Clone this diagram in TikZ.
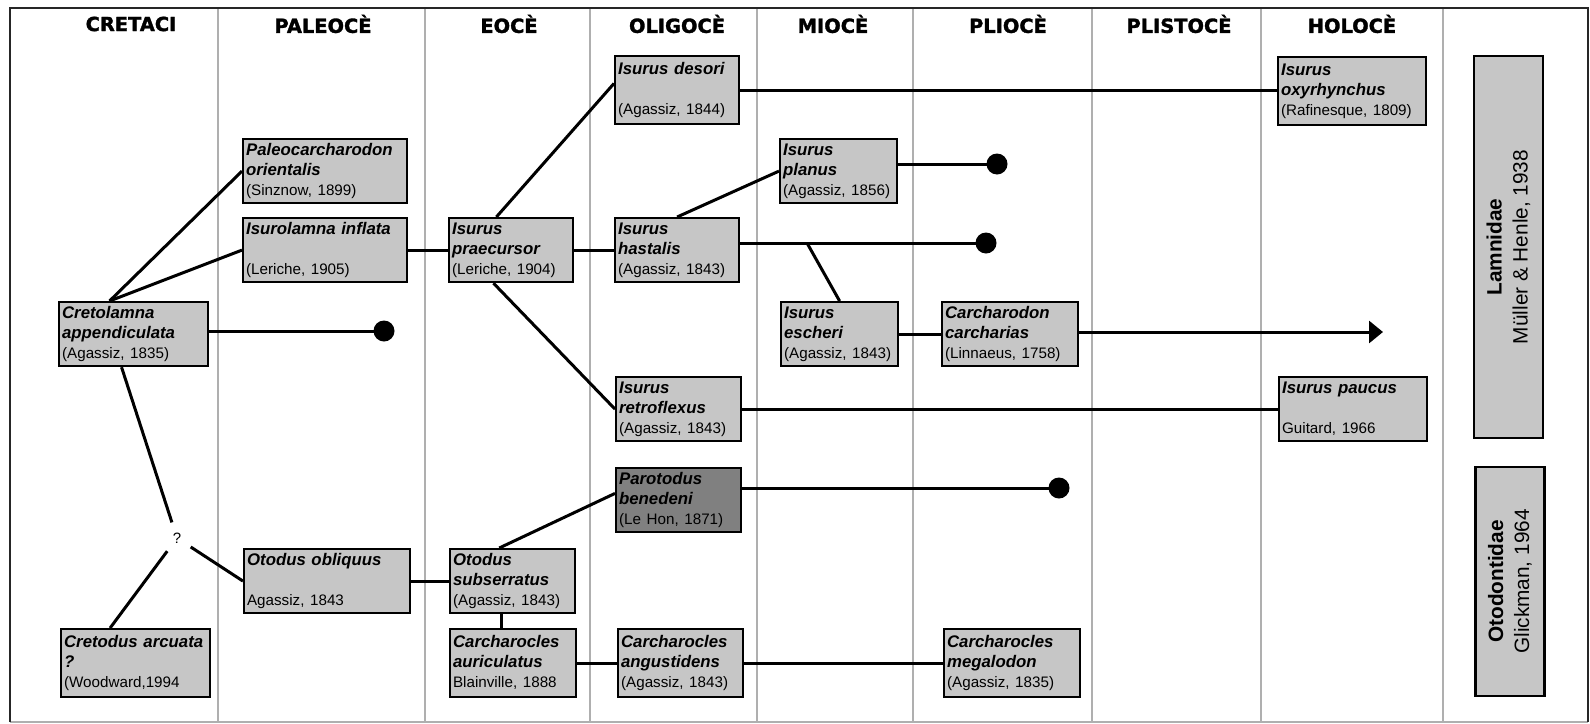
\documentclass[tikz,border=0pt]{standalone}
\usepackage{fontspec}
\setmainfont{Liberation Sans}
\newfontfamily\headfont{DejaVu Sans}[BoldFeatures={FakeBold=1.6}]
\usetikzlibrary{arrows.meta, calc}

\definecolor{boxgray}{RGB}{198,198,198}
\definecolor{darkbox}{RGB}{128,128,128}
\definecolor{sepgray}{RGB}{175,175,175}

% two name lines (bold italic) and the author line
\newcommand{\taxon}[3]{%
  \textbf{\textit{#1}}\strut\\
  \textbf{\textit{#2}}\strut\\
  {\fontsize{7.6}{10}\selectfont #3\strut}}

\begin{document}
\begin{tikzpicture}[x=0.5pt, y=-0.5pt,
    taxon/.style={draw, line width=1.1pt, fill=boxgray, anchor=north west,
      align=left, text width=#1, inner xsep=1.5pt, inner ysep=1pt,
      font=\fontsize{8.4}{10}\selectfont},
    family/.style={draw, line width=1.1pt, fill=boxgray, rotate=90, align=center,
      inner sep=0pt, minimum height=34.5pt, font=\fontsize{10.4}{13}\selectfont},
    head/.style={font=\headfont\bfseries\fontsize{9.7}{11}\selectfont},
    link/.style={line width=1.5pt},
    sep/.style={sepgray, line width=0.6pt}]

  \useasboundingbox (0,0) rectangle (1590,723);

  % === FRAME AND EPOCHS ===
  \foreach \x in {218,425,590,757,913,1092,1261,1443}
    \draw[sep] (\x,8) -- (\x,722);
  \draw[sep] (10,722) -- (1588,722);
  \draw[line width=1.1pt, black!85] (10,722) -- (10,8) -- (1588,8) -- (1588,722);

  \foreach \x/\t [count=\i] in {131/CRETACI, 323/PALEOCÈ, 509/EOCÈ, 677/OLIGOCÈ,
      833/MIOCÈ, 1008/PLIOCÈ, 1179/PLISTOCÈ, 1352/HOLOCÈ}
    \node[head] (h\i) at (\x,24) {\t};

  % === SPECIES ===
  \node[taxon=71.5pt] (cret) at (58,301) {\taxon{Cretolamna}{appendiculata}{(Agassiz, 1835)}};
  \node[taxon=71.5pt, minimum height=34pt] (cretod) at (60,628) {\taxon{Cretodus arcuata}{?}{(Woodward,1994}};
  \node[taxon=79pt] (paleo) at (242,138) {\taxon{Paleocarcharodon}{orientalis}{(Sinznow, 1899)}};
  \node[taxon=79pt] (inflata) at (242,217) {\taxon{Isurolamna inflata}{}{(Leriche, 1905)}};
  \node[taxon=80pt] (obliq) at (243,548) {\taxon{Otodus obliquus}{}{Agassiz, 1843}};
  \node[taxon=59pt] (praec) at (448,217) {\taxon{Isurus}{praecursor}{(Leriche, 1904)}};
  \node[taxon=59.5pt] (subser) at (449,548) {\taxon{Otodus}{subserratus}{(Agassiz, 1843)}};
  \node[taxon=60pt, minimum height=34pt] (auric) at (449,628) {\taxon{Carcharocles}{auriculatus}{Blainville, 1888}};
  \node[taxon=59pt, minimum height=34pt] (desori) at (614,55) {\taxon{Isurus desori}{}{(Agassiz, 1844)}};
  \node[taxon=59pt] (hastal) at (614,217) {\taxon{Isurus}{hastalis}{(Agassiz, 1843)}};
  \node[taxon=59.5pt] (retro) at (615,376) {\taxon{Isurus}{retroflexus}{(Agassiz, 1843)}};
  \node[taxon=59.5pt, fill=darkbox] (bened) at (615,467) {\taxon{Parotodus}{benedeni}{(Le Hon, 1871)}};
  \node[taxon=59.5pt, minimum height=34pt] (angust) at (617,628) {\taxon{Carcharocles}{angustidens}{(Agassiz, 1843)}};
  \node[taxon=55.5pt] (planus) at (779,138) {\taxon{Isurus}{planus}{(Agassiz, 1856)}};
  \node[taxon=55.5pt] (escher) at (780,301) {\taxon{Isurus}{escheri}{(Agassiz, 1843)}};
  \node[taxon=65pt] (carch) at (941,301) {\taxon{Carcharodon}{carcharias}{(Linnaeus, 1758)}};
  \node[taxon=65pt, minimum height=34pt] (megal) at (943,628) {\taxon{Carcharocles}{megalodon}{(Agassiz, 1835)}};
  \node[taxon=71pt, minimum height=34pt] (oxyr) at (1277,56) {\taxon{Isurus}{oxyrhynchus}{(Rafinesque, 1809)}};
  \node[taxon=71pt] (paucus) at (1278,376) {\taxon{Isurus paucus}{}{Guitard, 1966}};

  \node[circle, inner sep=0pt, minimum size=16pt, font=\fontsize{7.5}{9}\selectfont] (q) at (177,538) {?};

  % === FAMILIES ===
  \node[family, minimum width=191pt] (lamn) at (1508.5,247) {\textbf{Lamnidae}\\Müller \& Henle, 1938};
  \node[family, minimum width=114.5pt] (otod) at (1510,581.5) {\textbf{Otodontidae}\\Glickman, 1964};

  % === LINKS ===
  \coordinate (endA) at (384,331);
  \coordinate (endB) at (997,164);
  \coordinate (endC) at (986,243);
  \coordinate (endD) at (1059,488);
  \coordinate (fork) at (807,243);
  \coordinate (today) at (1383,332);

  \draw[link] (cret.126) -- (paleo.west);
  \draw[link] (cret.126) -- (inflata.west);
  \draw[link] (cret.east |- endA) -- (endA);
  \draw[link] (cret.250) -- (q);
  \draw[link] (q) -- (cretod.126);
  \draw[link] (q) -- (obliq.west);

  \draw[link] (inflata.east) -- (inflata.east -| praec.west);
  \draw[link] (praec.114) -- (desori.174);
  \draw[link] (praec.east) -- (praec.east -| hastal.west);
  \draw[link] (praec.242) -- (retro.west);

  \draw[link] (desori.east) -- (desori.east -| oxyr.west);
  \draw[link] (hastal.north) -- (planus.west);
  \draw[link] (planus.east |- endB) -- (endB);
  \draw[link] (hastal.east |- endC) -- (endC);
  \draw[link] (fork) -- (escher.north);
  \draw[link] (escher.east) -- (escher.east -| carch.west);
  \draw[link, -{Triangle[length=7pt, width=11pt]}] (carch.east |- today) -- (today);
  \draw[link] (retro.east) -- (retro.east -| paucus.west);

  \draw[link] (obliq.east) -- (obliq.east -| subser.west);
  \draw[link] (subser.112) -- (bened.174);
  \draw[link] (bened.east |- endD) -- (endD);
  \draw[link] (subser.251) -- (subser.251 |- auric.north);
  \draw[link] (auric.east) -- (auric.east -| angust.west);
  \draw[link] (angust.east) -- (angust.east -| megal.west);

  \foreach \e in {endA, endB, endC, endD}
    \fill (\e) circle (5.25pt);

\end{tikzpicture}
\end{document}
